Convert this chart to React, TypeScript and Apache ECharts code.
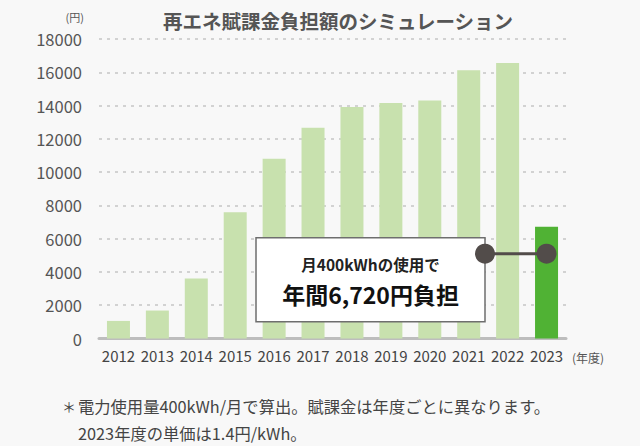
import React, { useEffect, useRef } from "react";
import * as echarts from "echarts";

const years = ["2012", "2013", "2014", "2015", "2016", "2017", "2018", "2019", "2020", "2021", "2022", "2023"];
const burden = [1056, 1680, 3600, 7584, 10800, 12672, 13920, 14160, 14304, 16128, 16560, 6720];
const highlightYear = "2023";
const calloutValue = 5100;
const titleText = "再エネ賦課金負担額のシミュレーション";
const boxLine1 = "月400kWhの使用で";
const boxLine2 = "年間6,720円負担";
const note1 = "電力使用量400kWh/月で算出。賦課金は年度ごとに異なります。";
const note2 = "2023年度の単価は1.4円/kWh。";

const FONT = '"Noto Sans CJK JP", "Noto Sans", sans-serif';

export default function App() {
  const ref = useRef<HTMLDivElement>(null);
  useEffect(() => {
    document.body.style.margin = "0";
    const chart = echarts.init(ref.current!, null, { renderer: "svg" });
    const option: any = {
      animation: false,
      backgroundColor: "#f8f8f8",
      textStyle: { fontFamily: FONT },
      title: {
        text: titleText,
        left: 333,
        textAlign: "center",
        top: 6,
        textStyle: { fontFamily: FONT, fontSize: 19.5, fontWeight: "bold", color: "#555" },
      },
      grid: { left: 99, right: 74, top: 39, bottom: 107.5, containLabel: false },
      xAxis: {
        type: "category",
        data: years,
        axisLine: { lineStyle: { color: "#bdbdbd", width: 3 } },
        axisTick: { show: false },
        axisLabel: { color: "#444", fontSize: 15, fontFamily: FONT, margin: 9, interval: 0 },
      },
      yAxis: {
        type: "value",
        min: 0,
        max: 18000,
        interval: 2000,
        axisLine: { show: false },
        axisTick: { show: false },
        axisLabel: { color: "#555", fontSize: 16.5, fontFamily: FONT, margin: 17, formatter: (v: number) => String(v) },
        splitLine: { lineStyle: { color: "#d2d2d2", width: 2, type: [3, 5] } },
      },
      series: [
        {
          type: "bar",
          barWidth: 23,
          data: burden.map((v, i) => ({
            value: v,
            itemStyle: { color: years[i] === highlightYear ? "#50b234" : "#c8e1ae" },
          })),
        },
      ],
    };
    chart.setOption(option);
    const p = chart.convertToPixel({ xAxisIndex: 0, yAxisIndex: 0 }, [highlightYear, calloutValue]) as number[];
    const cy = p[1];
    const boxRight = 485;
    const boxLeft = 256;
    const boxTop = cy - 16;
    const boxH = 84;
    chart.setOption({
      graphic: [
        {
          type: "rect",
          shape: { x: boxLeft, y: boxTop, width: boxRight - boxLeft, height: boxH },
          style: { fill: "#ffffff", stroke: "#6e6e6e", lineWidth: 1.5 },
          z: 10,
        },
        {
          type: "text",
          x: (boxLeft + boxRight) / 2,
          y: boxTop + 26,
          style: { text: boxLine1, fontFamily: FONT, fontSize: 15.5, fontWeight: "bold", fill: "#222", align: "center", verticalAlign: "middle" },
          z: 11,
        },
        {
          type: "text",
          x: (boxLeft + boxRight) / 2,
          y: boxTop + 56,
          style: { text: boxLine2, fontFamily: FONT, fontSize: 23, fontWeight: "bold", fill: "#111", align: "center", verticalAlign: "middle" },
          z: 11,
        },
        {
          type: "line",
          shape: { x1: boxRight, y1: cy, x2: p[0], y2: cy },
          style: { stroke: "#524c4a", lineWidth: 3 },
          z: 12,
        },
        { type: "circle", shape: { cx: boxRight, cy, r: 10 }, style: { fill: "#524c4a" }, z: 13 },
        { type: "circle", shape: { cx: p[0], cy, r: 10 }, style: { fill: "#524c4a" }, z: 13 },
        {
          type: "text",
          x: 84,
          y: 17,
          style: { text: "(円)", fontFamily: FONT, fontSize: 11, fill: "#555", align: "right", verticalAlign: "middle" },
        },
        {
          type: "text",
          x: 572,
          y: 357,
          style: { text: "(年度)", fontFamily: FONT, fontSize: 12, fill: "#555", align: "left", verticalAlign: "middle" },
        },
        {
          type: "text",
          x: 62,
          y: 406,
          style: { text: "＊", fontFamily: FONT, fontSize: 14, fill: "#444", align: "left", verticalAlign: "middle" },
        },
        {
          type: "text",
          x: 78,
          y: 406,
          style: { text: note1, fontFamily: FONT, fontSize: 16.3, fill: "#444", align: "left", verticalAlign: "middle" },
        },
        {
          type: "text",
          x: 78,
          y: 433,
          style: { text: note2, fontFamily: FONT, fontSize: 16.3, fill: "#444", align: "left", verticalAlign: "middle" },
        },
      ],
    });
    return () => chart.dispose();
  }, []);
  return <div ref={ref} style={{ position: "absolute", left: 0, top: 0, width: 640, height: 446 }} />;
}
